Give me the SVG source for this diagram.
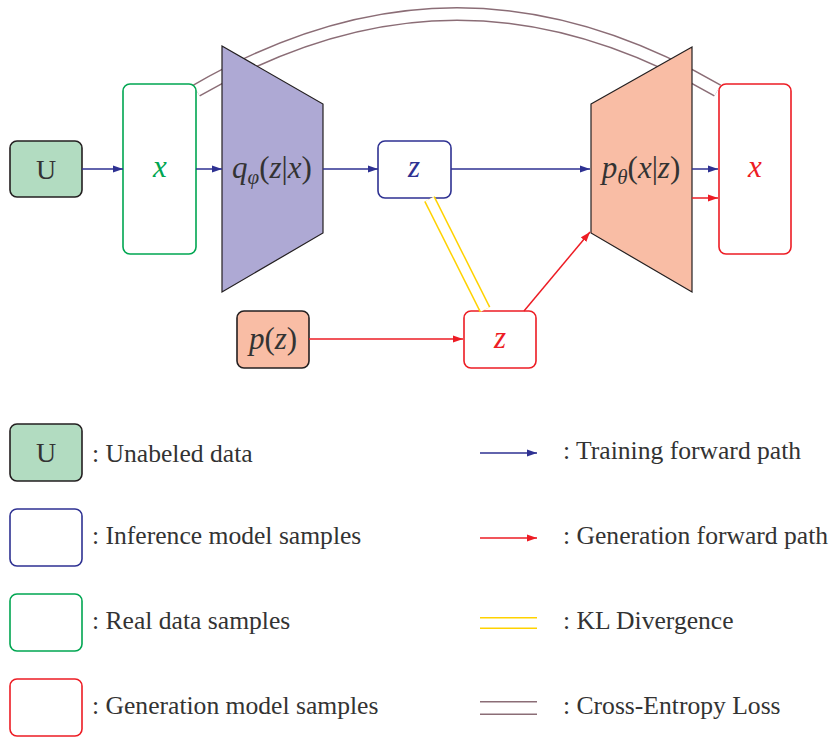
<svg xmlns="http://www.w3.org/2000/svg" width="832" height="738" viewBox="0 0 832 738">
<defs>
<marker id="ab" viewBox="0 0 10 8" refX="10" refY="4" markerWidth="10" markerHeight="8" markerUnits="userSpaceOnUse" orient="auto"><path d="M0,0.5 L10,4 L0,7.5 Z" fill="#2e3192"/></marker>
<marker id="ar" viewBox="0 0 10 8" refX="10" refY="4" markerWidth="10" markerHeight="8" markerUnits="userSpaceOnUse" orient="auto"><path d="M0,0.5 L10,4 L0,7.5 Z" fill="#ed1c24"/></marker>
</defs>
<style>
.box{fill:#fff;stroke-width:1.6}
.dark{stroke:#231f20}
.blue{stroke:#2e3192}
.red{stroke:#ed1c24}
.green{stroke:#00a651}
.tb{stroke:#2e3192;stroke-width:1.5;fill:none;marker-end:url(#ab)}
.tr{stroke:#ed1c24;stroke-width:1.5;fill:none;marker-end:url(#ar)}
.kl{stroke:#ffd200;stroke-width:12;fill:none}
.ce{stroke:#8b6d76;stroke-width:14;fill:none}
.in{stroke:#fff;fill:none}
text{font-family:"Liberation Serif","DejaVu Serif",serif;fill:#333}
.lg{font-size:25.6px}
.m{font-size:31px;font-style:italic}
.up{font-style:normal}
</style>
<rect width="832" height="738" fill="#fff"/>

<g id="connectors">
<path class="ce" d="M196.5,90.5 C373,-11.5 541,-11.5 717.5,90.5"/>
<path class="in" stroke-width="11" d="M196.5,90.5 C373,-11.5 541,-11.5 717.5,90.5"/>
</g>

<g id="node-U"><rect class="box dark" x="10" y="141" width="72" height="56" rx="7" style="fill:#b2dcc1"/><text x="46" y="179" text-anchor="middle" font-size="28">U</text></g>
<g id="node-x-real"><rect class="box green" x="123" y="84" width="73" height="170" rx="7"/><text class="m" x="160" y="177" text-anchor="middle" style="fill:#00a651">x</text></g>
<g id="node-encoder"><polygon points="222,46 323,104 323,233 222,292" fill="#aea9d4" stroke="#231f20" stroke-width="1.2"/><text class="m" x="272" y="178" text-anchor="middle">q<tspan font-size="21" dy="6">φ</tspan><tspan class="up" dy="-6">(</tspan>z<tspan class="up">|</tspan>x<tspan class="up">)</tspan></text></g>
<g id="node-z-inf"><rect class="box blue" x="378" y="141" width="73" height="57" rx="7"/><text class="m" x="414" y="177" text-anchor="middle" style="fill:#2e3192">z</text></g>
<g id="node-decoder"><polygon points="591,104 692,47 692,292 591,233" fill="#f9bda5" stroke="#231f20" stroke-width="1.2"/><text class="m" x="641" y="178" text-anchor="middle">p<tspan font-size="21" dy="6">θ</tspan><tspan class="up" dy="-6">(</tspan>x<tspan class="up">|</tspan>z<tspan class="up">)</tspan></text></g>
<g id="node-x-gen"><rect class="box red" x="719" y="84" width="72" height="170" rx="7"/><text class="m" x="755" y="177" text-anchor="middle" style="fill:#ed1c24">x</text></g>
<g id="node-pz"><rect class="box dark" x="237" y="311" width="72" height="57" rx="7" style="fill:#f9bda5"/><text class="m" x="273" y="349" text-anchor="middle">p<tspan class="up">(</tspan>z<tspan class="up">)</tspan></text></g>
<g id="node-z-gen"><rect class="box red" x="464" y="311" width="72" height="57" rx="7"/><text class="m" x="500" y="348" text-anchor="middle" style="fill:#ed1c24">z</text></g>

<g id="connectors-2">
<line class="tb" x1="82" y1="169" x2="123" y2="169"/>
<line class="tb" x1="196" y1="169" x2="222" y2="169"/>
<line class="tb" x1="323" y1="169" x2="378" y2="169"/>
<line class="tb" x1="451" y1="169" x2="590" y2="169"/>
<line class="tb" x1="692" y1="169" x2="718" y2="169"/>
<line class="tr" x1="692" y1="198" x2="718" y2="198"/>
<line class="tr" x1="309" y1="339" x2="463" y2="339"/>
<line class="tr" x1="524" y1="311" x2="590" y2="232"/>
<line class="kl" x1="429.5" y1="199" x2="485" y2="309.5"/>
<line class="in" stroke-width="9" x1="429.5" y1="199" x2="485" y2="309.5"/>
</g>

<g id="legend">
<rect class="box dark" x="10" y="424" width="72" height="57" rx="7" style="fill:#b2dcc1"/><text x="46" y="462" text-anchor="middle" font-size="28">U</text>
<text class="lg" x="92" y="462">: Unabeled data</text>
<rect class="box blue" x="10" y="509" width="72" height="57" rx="7"/>
<text class="lg" x="92" y="544">: Inference model samples</text>
<rect class="box green" x="10" y="594" width="72" height="57" rx="7"/>
<text class="lg" x="92" y="629">: Real data samples</text>
<rect class="box red" x="10" y="679" width="72" height="57" rx="7"/>
<text class="lg" x="92" y="714">: Generation model samples</text>

<line class="tb" x1="480" y1="453" x2="537" y2="453"/>
<text class="lg" x="563" y="459">: Training forward path</text>
<line class="tr" x1="480" y1="538" x2="537" y2="538"/>
<text class="lg" x="563" y="544">: Generation forward path</text>
<line class="kl" x1="480" y1="623" x2="537" y2="623"/>
<line class="in" stroke-width="9" x1="480" y1="623" x2="537" y2="623"/>
<text class="lg" x="563" y="629">: KL Divergence</text>
<line class="ce" x1="480" y1="708" x2="537" y2="708"/>
<line class="in" stroke-width="11" x1="480" y1="708" x2="537" y2="708"/>
<text class="lg" x="563" y="714">: Cross-Entropy Loss</text>
</g>
</svg>
